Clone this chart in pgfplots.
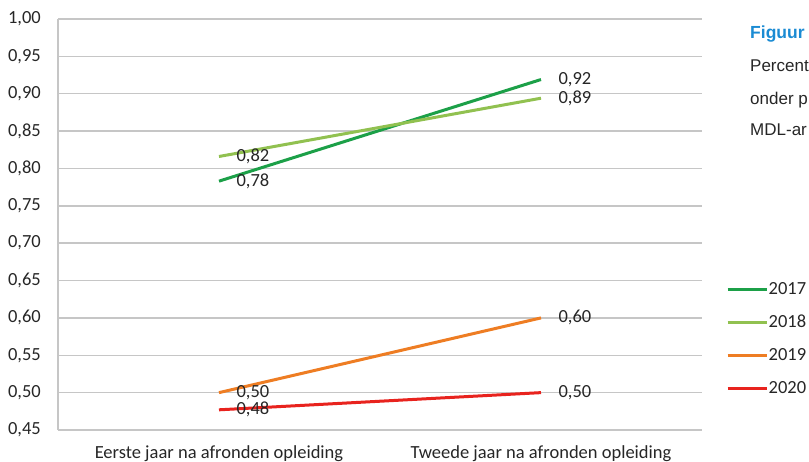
\documentclass[border=0pt]{standalone}
\usepackage{pgfplots}
\pgfplotsset{compat=1.18}
\usepackage{fontspec}
\setmainfont{Carlito}
\newfontfamily\captionfont{Liberation Sans}

\definecolor{c2017}{HTML}{1CA048}
\definecolor{c2018}{HTML}{91C150}
\definecolor{c2019}{HTML}{EE7D23}
\definecolor{c2020}{HTML}{E8231E}
\definecolor{gridgray}{HTML}{C6C6C6}
\definecolor{txt}{HTML}{262626}
\definecolor{figblue}{HTML}{1B8BD3}

\begin{document}
\begin{tikzpicture}
\useasboundingbox (0,0) rectangle (809pt,462pt);
\clip (0,0) rectangle (809pt,462pt);
\begin{axis}[
  at={(58pt,32pt)}, anchor=south west,
  scale only axis, width=644pt, height=411pt,
  xmin=-0.5, xmax=1.5,
  ymin=0.45, ymax=1.00,
  xtick={0,1},
  xticklabels={Eerste jaar na afronden opleiding, Tweede jaar na afronden opleiding},
  ytick={0.45,0.50,...,1.001},
  axis lines*=left,
  axis line style={draw=gridgray, line width=1.5pt},
  ymajorgrids,
  grid style={draw=gridgray, line width=1.5pt},
  major tick length=0pt,
  tick style={draw=none},
  /pgf/number format/.cd, use comma, fixed, fixed zerofill, precision=2, assume math mode=true,
  /pgfplots/.cd,
  tick label style={font=\fontsize{18.5}{22}\selectfont, text=txt, inner sep=0pt},
  yticklabel style={anchor=east, xshift=-17pt},
  xticklabel style={anchor=north, yshift=-15pt},
  nodes near coords,
  point meta=y,
  nodes near coords style={anchor=west, inner sep=0pt, xshift=16pt,
    font=\fontsize{18.5}{22}\selectfont, text=txt},
  legend cell align=left,
  legend style={draw=none, fill=none, inner sep=0pt, row sep=0pt,
    at={(axis description cs:1.0373,0.3832)}, anchor=north west,
    nodes={inner sep=0pt, inner xsep=0.5pt, minimum height=33pt,
      font=\fontsize{18.5}{22}\selectfont, text=txt}},
  legend image code/.code={\draw[#1, line width=3pt] (0pt,0pt) -- (39pt,0pt);},
  every axis plot/.append style={line width=3pt},
]
\addplot[c2017] coordinates {(0,0.783) (1,0.919)};
\addlegendentry{2017}
\addplot[c2018] coordinates {(0,0.816) (1,0.894)};
\addlegendentry{2018}
\addplot[c2019] coordinates {(0,0.50) (1,0.60)};
\addlegendentry{2019}
\addplot[c2020] coordinates {(0,0.477) (1,0.50)};
\addlegendentry{2020}
\end{axis}

% caption column beside the chart
\node[anchor=base west, inner sep=0pt, text=figblue, font=\captionfont\bfseries\fontsize{17.5}{20}\selectfont] at (750pt,423pt) {Figuur};
\node[anchor=base west, inner sep=0pt, text=txt, font=\captionfont\fontsize{17}{20}\selectfont] at (750pt,390pt) {Percent};
\node[anchor=base west, inner sep=0pt, text=txt, font=\captionfont\fontsize{17}{20}\selectfont] at (750pt,357pt) {onder p};
\node[anchor=base west, inner sep=0pt, text=txt, font=\captionfont\fontsize{17}{20}\selectfont] at (750pt,326pt) {MDL-ar};
\end{tikzpicture}
\end{document}
